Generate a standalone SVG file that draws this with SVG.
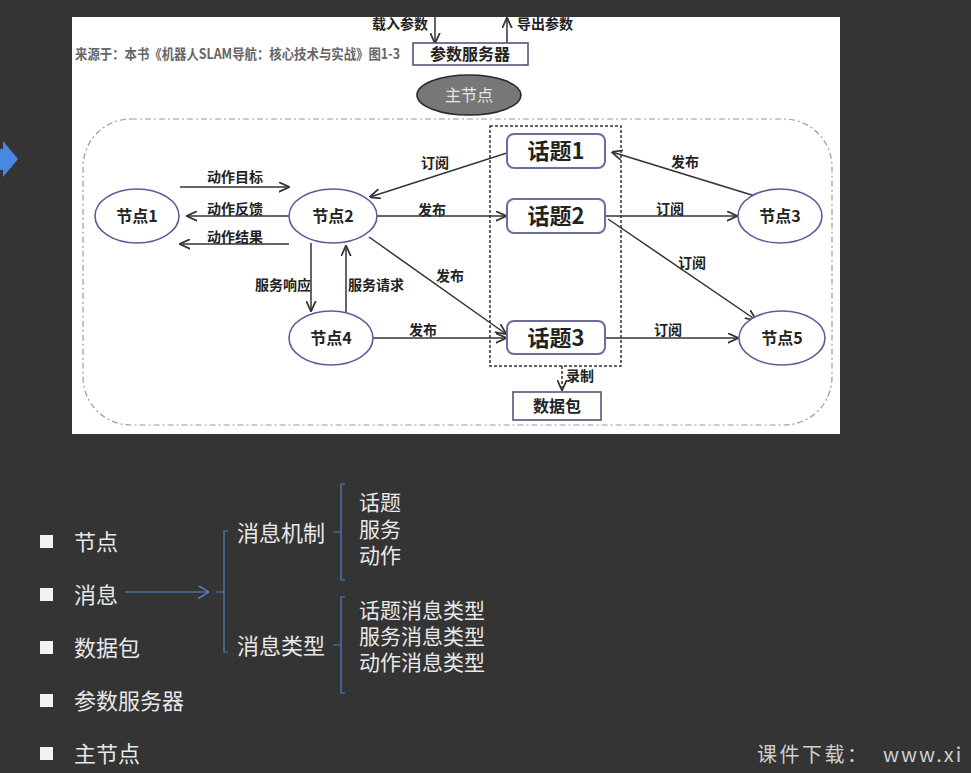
<svg xmlns="http://www.w3.org/2000/svg" width="971" height="773" viewBox="0 0 971 773">
<defs>
<marker id="ah" viewBox="0 0 10 10" refX="9.5" refY="5" markerWidth="11" markerHeight="11" markerUnits="userSpaceOnUse" orient="auto">
<path d="M0,0.5 L10,5 L0,9.5" fill="none" stroke="#333" stroke-width="1.6"/>
</marker>
<marker id="ahs" viewBox="0 0 10 10" refX="9.5" refY="5" markerWidth="8" markerHeight="8" markerUnits="userSpaceOnUse" orient="auto">
<path d="M0,0.5 L10,5 L0,9.5" fill="none" stroke="#333" stroke-width="1.8"/>
</marker>
<marker id="ahb" viewBox="0 0 10 12" refX="10" refY="6" markerWidth="11" markerHeight="13" markerUnits="userSpaceOnUse" orient="auto">
<path d="M0,0 L10,6 L0,12" fill="none" stroke="#5b8bd4" stroke-width="1.2"/>
</marker>
</defs>
<style>
.bg{fill:#343434}
.lbl{font-family:"Noto Sans CJK SC","Liberation Sans",sans-serif;font-size:14px;font-weight:bold;fill:#222;text-anchor:middle}
.node{font-family:"Noto Sans CJK SC","Liberation Sans",sans-serif;font-size:16px;font-weight:bold;fill:#222;text-anchor:middle}
.topic{font-family:"Noto Sans CJK SC","Liberation Sans",sans-serif;font-size:22px;font-weight:bold;fill:#222;text-anchor:middle}
.ell{fill:#fff;stroke:#5c5c98;stroke-width:1.6}
.tbox{fill:#fff;stroke:#6c6ca0;stroke-width:2}
.box{fill:#fff;stroke:#55557a;stroke-width:1.6}
.ln{stroke:#333;stroke-width:1.5;fill:none;marker-end:url(#ah)}
.wt{font-family:"Noto Sans CJK SC","Liberation Sans",sans-serif;font-size:22px;fill:#e8e8e8}
.st{font-family:"Noto Sans CJK SC","Liberation Sans",sans-serif;font-size:21px;fill:#e8e8e8}
.br{stroke:#4f80c4;stroke-width:1.2;fill:none}
</style>
<rect class="bg" x="0" y="0" width="971" height="773"/>
<polygon points="0,149 3,149 3,141 18,159 3,177 3,170 0,170" fill="#4a88e0"/>
<rect x="72" y="17" width="768" height="417" fill="#fff"/>

<rect x="83" y="119" width="749" height="306" rx="48" fill="none" stroke="#9a9a9a" stroke-width="1.2" stroke-dasharray="6 3 2 3"/>
<rect x="490" y="126" width="131" height="240" fill="none" stroke="#333" stroke-width="1.5" stroke-dasharray="3 2"/>

<text x="75" y="59" font-family="'Noto Sans CJK SC','Liberation Sans',sans-serif" font-size="14" font-weight="bold" fill="#666" textLength="325" lengthAdjust="spacingAndGlyphs">来源于：本书《机器人SLAM导航：核心技术与实战》图1-3</text>

<g id="connectors">
<line class="ln" x1="435" y1="17" x2="435" y2="43" marker-end="url(#ahs)"/>
<line class="ln" x1="507" y1="43" x2="507" y2="18" marker-end="url(#ahs)"/>
<line class="ln" x1="180" y1="187" x2="289" y2="187"/>
<line class="ln" x1="297" y1="216" x2="187" y2="216"/>
<line class="ln" x1="289" y1="244" x2="180" y2="244"/>
<line class="ln" x1="510" y1="152" x2="370" y2="197"/>
<line class="ln" x1="376" y1="216" x2="506" y2="216"/>
<line class="ln" x1="369" y1="237" x2="506" y2="334"/>
<line class="ln" x1="311" y1="243" x2="311" y2="311"/>
<line class="ln" x1="346" y1="312" x2="346" y2="246"/>
<line class="ln" x1="372" y1="338" x2="506" y2="338"/>
<line class="ln" x1="755" y1="196" x2="612" y2="152"/>
<line class="ln" x1="605" y1="216" x2="737" y2="216"/>
<line class="ln" x1="608" y1="219" x2="756" y2="320"/>
<line class="ln" x1="606" y1="338" x2="738" y2="338"/>
<line class="ln" x1="562" y1="366" x2="562" y2="390" stroke-dasharray="3 2"/>
<text class="lbl" x="235" y="182">动作目标</text>
<text class="lbl" x="235" y="214">动作反馈</text>
<text class="lbl" x="235" y="242">动作结果</text>
<text class="lbl" x="435" y="168">订阅</text>
<text class="lbl" x="432" y="215">发布</text>
<text class="lbl" x="450" y="281">发布</text>
<text class="lbl" x="283" y="290">服务响应</text>
<text class="lbl" x="376" y="290">服务请求</text>
<text class="lbl" x="423" y="335">发布</text>
<text class="lbl" x="685" y="167">发布</text>
<text class="lbl" x="670" y="214">订阅</text>
<text class="lbl" x="692" y="268">订阅</text>
<text class="lbl" x="668" y="335">订阅</text>
<text class="lbl" x="580" y="381">录制</text>
<text class="lbl" x="428" y="29" style="text-anchor:end">载入参数</text>
<text class="lbl" x="517" y="29" style="text-anchor:start">导出参数</text>
</g>

<g id="param-server">
<rect class="box" x="413" y="43" width="115" height="22"/>
<text class="node" x="470" y="60" style="font-size:16px">参数服务器</text>
</g>
<g id="master">
<ellipse cx="469" cy="95" rx="52" ry="20" fill="#777" stroke="#2a2a2a" stroke-width="1.6"/>
<text class="node" x="469" y="101" style="fill:#e6e6e6;font-weight:normal">主节点</text>
</g>
<g id="node1"><ellipse class="ell" cx="137" cy="216" rx="42" ry="27"/><text class="node" x="137" y="222">节点1</text></g>
<g id="node2"><ellipse class="ell" cx="333" cy="216" rx="44" ry="27"/><text class="node" x="333" y="222">节点2</text></g>
<g id="node3"><ellipse class="ell" cx="780" cy="216" rx="42" ry="27"/><text class="node" x="780" y="222">节点3</text></g>
<g id="node4"><ellipse class="ell" cx="331" cy="338" rx="42" ry="27"/><text class="node" x="331" y="344">节点4</text></g>
<g id="node5"><ellipse class="ell" cx="782" cy="338" rx="43" ry="27"/><text class="node" x="782" y="344">节点5</text></g>
<g id="topic1"><rect class="tbox" x="507" y="134" width="98" height="34" rx="7"/><text class="topic" x="556" y="159">话题1</text></g>
<g id="topic2"><rect class="tbox" x="507" y="199" width="98" height="34" rx="7"/><text class="topic" x="556" y="224">话题2</text></g>
<g id="topic3"><rect class="tbox" x="507" y="321" width="98" height="33" rx="7"/><text class="topic" x="556" y="346">话题3</text></g>
<g id="bag"><rect class="box" x="513" y="392" width="88" height="28"/><text class="node" x="557" y="412">数据包</text></g>

<g id="list">
<rect x="40" y="535" width="13" height="13" fill="#f2f2f2"/>
<rect x="40" y="588" width="13" height="13" fill="#f2f2f2"/>
<rect x="40" y="641" width="13" height="13" fill="#f2f2f2"/>
<rect x="40" y="694" width="13" height="13" fill="#f2f2f2"/>
<rect x="40" y="747" width="13" height="13" fill="#f2f2f2"/>
<text class="wt" x="74" y="550">节点</text>
<text class="wt" x="74" y="603">消息</text>
<text class="wt" x="74" y="656">数据包</text>
<text class="wt" x="74" y="709">参数服务器</text>
<text class="wt" x="74" y="762">主节点</text>
</g>
<g id="tree">
<line x1="125" y1="592" x2="209" y2="592" stroke="#5b8bd4" stroke-width="1.2" marker-end="url(#ahb)"/>
<path class="br" d="M216,592 H224 M228,531 H224 V652 H228"/>
<path class="br" d="M333,532 H341 M345,484 H341 V580 H345"/>
<path class="br" d="M333,645 H341 M345,597 H341 V693 H345"/>
<text class="wt" x="237" y="541">消息机制</text>
<text class="wt" x="237" y="654">消息类型</text>
<text class="st" x="359" y="510">话题</text>
<text class="st" x="359" y="537">服务</text>
<text class="st" x="359" y="563">动作</text>
<text class="st" x="359" y="618">话题消息类型</text>
<text class="st" x="359" y="644">服务消息类型</text>
<text class="st" x="359" y="670">动作消息类型</text>
</g>
<text x="757" y="762" font-family="'Noto Sans CJK SC','Liberation Sans',sans-serif" font-size="20" fill="#cfcfcf" letter-spacing="2.5">课件下载：<tspan x="883" letter-spacing="2">www.xi</tspan></text>
</svg>
